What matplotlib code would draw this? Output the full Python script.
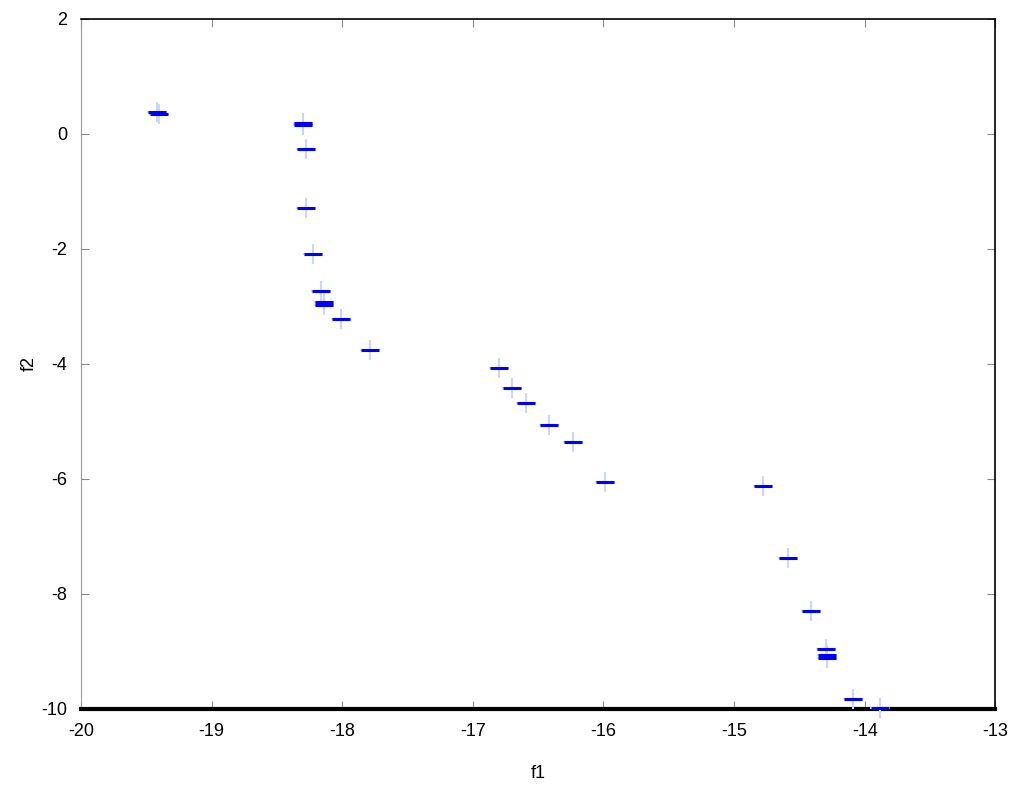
import matplotlib
matplotlib.use('Agg')
import matplotlib.pyplot as plt
import numpy as np

plt.rcParams['font.family'] = ['Liberation Sans', 'DejaVu Sans']
plt.rcParams['axes.unicode_minus'] = False

# pareto front points
f1 = [-19.42, -19.40, -18.30, -18.30, -18.28, -18.28, -18.22, -18.16,
      -18.14, -18.14, -18.01, -17.79, -16.80, -16.70, -16.59, -16.42,
      -16.23, -15.99, -14.78, -14.59, -14.41, -14.30, -14.29, -14.29,
      -14.09, -13.88]
f2 = [0.38, 0.35, 0.19, 0.16, -0.26, -1.29, -2.09, -2.73,
      -2.93, -2.97, -3.22, -3.76, -4.07, -4.42, -4.68, -5.06,
      -5.36, -6.05, -6.12, -7.37, -8.30, -8.96, -9.07, -9.11,
      -9.83, -9.99]

fig = plt.figure(figsize=(10.24, 7.85), dpi=100)
ax = fig.add_axes([0.079, 0.097, 0.893, 0.879])

ax.plot(f1, f2, '+', color='#cdd5ff', markersize=15, markeredgewidth=1.5,
        clip_on=False, zorder=4)
ax.plot(f1, f2, '_', color='#0000ff', markersize=13, markeredgewidth=2.2,
        clip_on=False, zorder=5)

ax.set_xlim(-20, -13)
ax.set_ylim(-10, 2)
ax.set_xticks(np.arange(-20, -12, 1))
ax.set_yticks(np.arange(-10, 3, 2))
ax.tick_params(direction='in', top=True, right=True, labelsize=13, length=6,
               color='#888888', pad=10)

for s in ['top', 'right']:
    ax.spines[s].set_color('black')
    ax.spines[s].set_linewidth(1.2)
ax.spines['left'].set_color('#999999')
ax.spines['bottom'].set_color('black')
ax.spines['bottom'].set_linewidth(3)

ax.set_xlabel('f1', fontsize=13, labelpad=18)
ax.set_ylabel('f2', fontsize=13, labelpad=2)

fig.savefig('out.png', dpi=100)
